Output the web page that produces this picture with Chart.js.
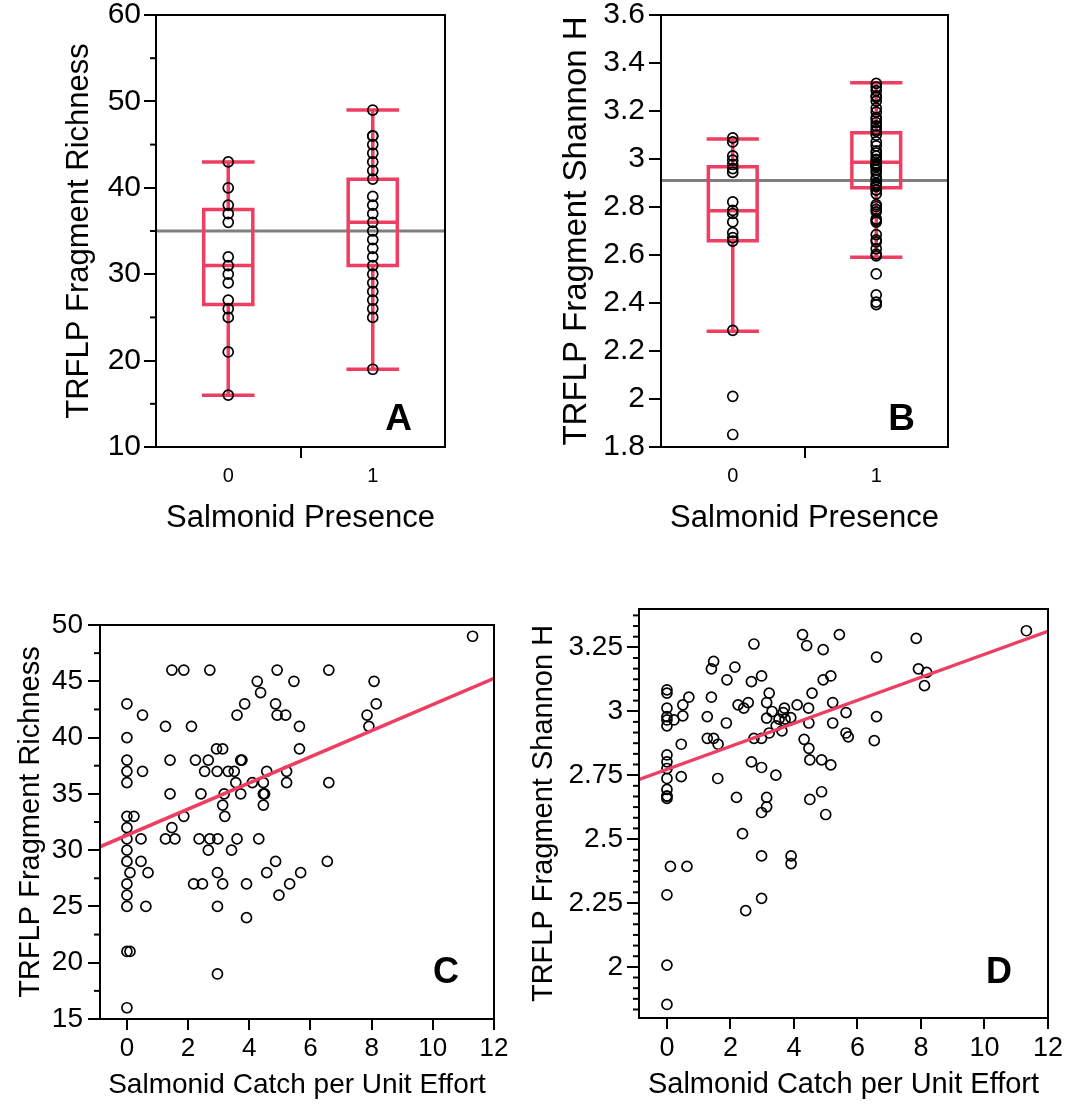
<!DOCTYPE html>
<html><head><meta charset="utf-8">
<script src="https://cdn.jsdelivr.net/npm/chart.js@4"></script>
<style>
html,body{margin:0;padding:0;background:#fff;width:1074px;height:1107px;overflow:hidden;}
canvas{position:absolute;}
</style></head><body>
<canvas id="cA" width="530" height="550" style="left:0;top:0"></canvas>
<canvas id="cB" width="534" height="550" style="left:540px;top:0"></canvas>
<canvas id="cC" width="520" height="547" style="left:0;top:560px"></canvas>
<canvas id="cD" width="554" height="547" style="left:520px;top:560px"></canvas>
<script>
// ---------------- DATA ----------------
const presenceTickValues = [0, 0.5, 1];
const presenceTickLabels = ['0', '', '1'];
const richnessTicksA = [10, 20, 30, 40, 50, 60];
const shannonTicksB = [1.8, 2, 2.2, 2.4, 2.6, 2.8, 3, 3.2, 3.4, 3.6];
const richnessTicksC = [15, 20, 25, 30, 35, 40, 45, 50];
const shannonTicksD = [2, 2.25, 2.5, 2.75, 3, 3.25];
const catchTicks = [0, 2, 4, 6, 8, 10, 12];

// box stats: [lower whisker, Q1, median, Q3, upper whisker]
const richnessBoxAbsent  = [16, 26.5, 31, 37.5, 43];
const richnessBoxPresent = [19, 31, 36, 41, 49];
const shannonBoxAbsent   = [2.282, 2.659, 2.784, 2.968, 3.083];
const shannonBoxPresent  = [2.591, 2.88, 2.986, 3.109, 3.318];
const richnessMean = 35;
const shannonMean = 2.91;

const richnessAbsent  = [43, 40, 38, 37, 36, 32, 31, 30, 29, 27, 26, 25, 21, 16];
const richnessPresent = [49, 46, 46, 45, 44, 43, 42, 41, 39, 38, 37, 36, 35, 34, 33, 32, 31, 30, 29, 28, 27, 26, 25, 19];
const shannonAbsent  = [3.088, 3.071, 3.013, 2.995, 2.977, 2.96, 2.944, 2.821, 2.786, 2.773, 2.738, 2.693, 2.672, 2.658, 2.286, 2.011, 1.852];
const shannonPresent = [2.393, 2.966, 2.871, 2.744, 2.982, 3.025, 3.055, 2.979, 2.894, 3.166, 3.195, 2.871, 2.737, 2.954, 3.123,
  3.173, 2.663, 2.521, 3.012, 3.034, 3.116, 2.802, 3.263, 3.138, 2.78, 2.604, 2.434, 2.973, 2.626, 3.071, 2.915, 2.999, 2.75,
  2.943, 2.969, 2.923, 2.995, 2.975, 2.404, 3.30, 2.89, 3.257, 2.855, 2.81, 2.655, 2.685, 3.241, 2.596, 2.79, 2.90, 2.885,
  3.212, 3.285, 3.10, 3.152, 3.315];

const catchC = [0,0,0,0,0,0,0,0,0,0,0,0,0,0,0, 0.1,0.1,0.23,0.46,0.46,0.51,0.51,0.62,0.69,
  1.26,1.26,1.41,1.41,1.47,1.47,1.57,1.86,1.86, 2.11,2.18,2.24,2.36,2.42,2.47,2.54,2.66,2.66,2.71,2.71,2.93,2.95,2.96,2.96,2.96,2.97,
  3.13,3.13,3.13,3.18,3.2,3.31,3.42,3.51,3.56,3.6,3.6,3.72,3.76,3.72,3.85,3.91,3.91,
  4.1,4.26,4.31,4.37,4.46,4.46,4.5,4.46,4.57,4.57,4.86,4.86,4.91,4.91,4.97,
  5.19,5.22,5.22,5.32,5.46,5.64,5.64,5.68, 6.55,6.6,6.6, 7.85,7.91,8.08,8.15, 11.3];
const richnessC = [43,40,38,37,36,33,32,31,30,29,27,26,25,21,16, 28,21,33,31,29,42,37,25,28,
  41,31,38,35,46,32,31,46,33, 41,27,38,31,35,27,37,38,30,46,31,39,37,28,25,19,31,
  39,34,27,35,33,37,30,37,36,42,31,38,38,35,43,27,24,
  36,45,31,44,36,35,35,34,37,28,43,29,46,42,26,
  42,37,36,27,45,41,39,28, 29,46,36, 42,41,45,43, 49];
const fitCx = [-0.88, 12];
const fitCy = [30.3, 45.26];

const catchD = [0,0,0,0,0,0,0,0,0,0,0,0,0,0,0,0,0, 0.11,0.22,0.45,0.45,0.5,0.5,0.63,0.69,
  1.27,1.27,1.4,1.4,1.47,1.47,1.61,1.6,1.87,1.89,
  2.14,2.19,2.24,2.38,2.42,2.48,2.56,2.66,2.66,2.74,2.74,2.98,2.98,2.98,2.98,2.98,2.98,
  3.14,3.14,3.14,3.14,3.22,3.22,3.31,3.43,3.44,3.53,3.62,3.66,3.7,3.72,3.9,3.91,3.91,
  4.1,4.27,4.32,4.4,4.46,4.47,4.47,4.5,4.5,4.57,4.87,4.87,4.92,4.92,5.0,
  5.16,5.16,5.22,5.22,5.43,5.64,5.64,5.71, 6.53,6.6,6.6, 7.85,7.92,8.11,8.18, 11.32];
const shannonD = [3.084,3.071,3.012,2.979,2.966,2.943,2.829,2.802,2.776,2.737,2.694,2.668,2.668,2.659,2.282,2.007,1.853,
  2.393,2.966,2.871,2.744,2.982,3.025,2.393,3.055,
  2.979,2.894,3.055,3.166,3.195,2.894,2.871,2.737,2.954,3.123,
  3.173,2.663,3.025,2.521,3.012,2.22,3.034,3.116,2.802,3.263,2.894,3.138,2.894,2.78,2.604,2.434,2.268,
  3.034,2.973,2.663,2.626,3.071,2.915,2.999,2.75,2.943,2.969,2.923,2.995,3.012,2.969,2.975,2.434,2.404,
  3.025,3.30,2.89,3.257,3.012,2.954,2.855,2.81,2.655,3.071,2.81,2.685,3.241,3.123,2.596,
  2.79,3.138,3.034,2.954,3.30,2.995,2.915,2.90, 2.885,3.212,2.979, 3.285,3.166,3.10,3.152, 3.315];
const fitDx = [-0.88, 12];
const fitDy = [2.733, 3.313];

// ---------------- STYLE ----------------
const FONT = '"Liberation Sans", Arial, Helvetica, sans-serif';
const PINK = '#EE3E62';
const GREY = '#7f7f7f';
const BOX_HW = 0.17;

function boxData(c, s) {
  const [mn, q1, md, q3, mx] = s, hw = BOX_HW, G = {x: c, y: null};
  return [
    {x:c-hw,y:q1},{x:c+hw,y:q1},{x:c+hw,y:q3},{x:c-hw,y:q3},{x:c-hw,y:q1}, G,
    {x:c-hw,y:md},{x:c+hw,y:md}, G,
    {x:c,y:q3},{x:c,y:mx}, G,
    {x:c-hw,y:mx},{x:c+hw,y:mx}, G,
    {x:c,y:q1},{x:c,y:mn}, G,
    {x:c-hw,y:mn},{x:c+hw,y:mn}
  ];
}

const framePlugin = {
  id: 'frame',
  afterDatasetsDraw(chart, args, o) {
    const {ctx, chartArea: a} = chart;
    ctx.save();
    ctx.strokeStyle = '#000';
    ctx.lineWidth = 2;
    ctx.strokeRect(a.left, a.top, a.right - a.left, a.bottom - a.top);
    const ys = chart.scales.y;
    (o.minorY || []).forEach(v => {
      const p = ys.getPixelForValue(v);
      ctx.beginPath(); ctx.moveTo(a.left, p); ctx.lineTo(a.left - 6, p); ctx.stroke();
    });
    ctx.fillStyle = '#000';
    ctx.font = 'bold ' + o.letterSize + 'px ' + FONT;
    ctx.textAlign = 'right';
    ctx.textBaseline = 'alphabetic';
    ctx.fillText(o.letter, a.right - o.dx, a.bottom - o.dy);
    ctx.restore();
  }
};

function pointsDS(data, order) {
  return {type: 'scatter', data, showLine: false, pointStyle: 'circle', pointRadius: 5,
    pointBorderWidth: 1.7, pointBorderColor: '#000', pointBackgroundColor: 'rgba(0,0,0,0)', order};
}
function lineDS(data, color, width, order) {
  return {type: 'line', data, borderColor: color, borderWidth: width, pointRadius: 0, tension: 0,
    spanGaps: false, fill: false, borderCapStyle: 'square', borderJoinStyle: 'miter', order};
}

function xScale(o) {
  return {
    type: 'linear', min: o.min, max: o.max,
    afterBuildTicks: s => { s.ticks = o.ticks.map(v => ({value: v})); },
    afterFit: s => { s.height = o.height; s.paddingLeft = 0; s.paddingRight = 0; },
    ticks: {callback: o.cb || (v => String(v)), font: {family: FONT, size: o.tickSize}, color: '#000',
      padding: o.tickPad, maxRotation: 0, autoSkip: false},
    grid: {drawOnChartArea: false, tickLength: 11, tickWidth: 2, lineWidth: 2, tickColor: o.tickColor || '#000'},
    border: {display: false},
    title: {display: true, text: o.title, font: {family: FONT, size: o.titleSize}, color: '#000',
      padding: {top: 0, bottom: o.titlePad}}
  };
}
function yScale(o) {
  return {
    type: 'linear', min: o.min, max: o.max,
    afterBuildTicks: s => { s.ticks = o.ticks.map(v => ({value: v})); },
    afterFit: s => { s.width = o.width; s.paddingTop = 0; s.paddingBottom = 0; },
    ticks: {callback: v => String(v), font: {family: FONT, size: o.tickSize}, color: '#000', padding: o.tickPad, autoSkip: false},
    grid: {drawOnChartArea: false, tickLength: 12, tickWidth: 2, lineWidth: 2, tickColor: '#000'},
    border: {display: false},
    title: {display: true, text: o.title, font: {family: FONT, size: o.titleSize}, color: '#000',
      padding: {top: o.titlePad, bottom: 0}}
  };
}

function baseOptions(padding, scales, frame) {
  return {
    responsive: false, animation: false, maintainAspectRatio: false, events: [],
    layout: {padding},
    plugins: {legend: {display: false}, tooltip: {enabled: false}, frame},
    scales
  };
}

// ---------------- PANEL A ----------------
const minorA = [15, 25, 35, 45, 55];
new Chart(document.getElementById('cA'), {
  data: {datasets: [
    pointsDS(richnessAbsent.map(v => ({x: 0, y: v})), 0),
    pointsDS(richnessPresent.map(v => ({x: 1, y: v})), 0),
    lineDS(boxData(0, richnessBoxAbsent), PINK, 3.5, 1),
    lineDS(boxData(1, richnessBoxPresent), PINK, 3.5, 1),
    lineDS([{x: -0.5, y: richnessMean}, {x: 1.5, y: richnessMean}], GREY, 3, 2)
  ]},
  options: baseOptions({left: 0, top: 15, right: 85, bottom: 0}, {
    x: xScale({min: -0.5, max: 1.5, ticks: presenceTickValues, height: 103, cb: (v, i) => presenceTickLabels[i],
      tickSize: 20, tickPad: 6, tickColor: c => (c.tick && c.tick.value === 0.5) ? '#000' : 'rgba(0,0,0,0)',
      title: 'Salmonid Presence', titleSize: 31, titlePad: 13}),
    y: yScale({min: 10, max: 60, ticks: richnessTicksA, width: 156, tickSize: 30, tickPad: 3,
      title: 'TRFLP Fragment Richness', titleSize: 31, titlePad: 61})
  }, {letter: 'A', letterSize: 37, dx: 33, dy: 17, minorY: minorA}),
  plugins: [framePlugin]
});

// ---------------- PANEL B ----------------
new Chart(document.getElementById('cB'), {
  data: {datasets: [
    pointsDS(shannonAbsent.map(v => ({x: 0, y: v})), 0),
    pointsDS(shannonPresent.map(v => ({x: 1, y: v})), 0),
    lineDS(boxData(0, shannonBoxAbsent), PINK, 3.5, 1),
    lineDS(boxData(1, shannonBoxPresent), PINK, 3.5, 1),
    lineDS([{x: -0.5, y: shannonMean}, {x: 1.5, y: shannonMean}], GREY, 3, 2)
  ]},
  options: baseOptions({left: 0, top: 15, right: 126, bottom: 0}, {
    x: xScale({min: -0.5, max: 1.5, ticks: presenceTickValues, height: 103, cb: (v, i) => presenceTickLabels[i],
      tickSize: 20, tickPad: 6, tickColor: c => (c.tick && c.tick.value === 0.5) ? '#000' : 'rgba(0,0,0,0)',
      title: 'Salmonid Presence', titleSize: 31, titlePad: 13}),
    y: yScale({min: 1.8, max: 3.6, ticks: shannonTicksB, width: 121, tickSize: 30, tickPad: 4,
      title: 'TRFLP Fragment Shannon H', titleSize: 33, titlePad: 17})
  }, {letter: 'B', letterSize: 37, dx: 33, dy: 17, minorY: []}),
  plugins: [framePlugin]
});

// ---------------- PANEL C ----------------
const minorC = [17.5, 22.5, 27.5, 32.5, 37.5, 42.5, 47.5];
new Chart(document.getElementById('cC'), {
  data: {datasets: [
    pointsDS(catchC.map((x, i) => ({x, y: richnessC[i]})), 1),
    lineDS(fitCx.map((x, i) => ({x, y: fitCy[i]})), PINK, 3.5, 0)
  ]},
  options: baseOptions({left: 0, top: 65, right: 26, bottom: 0}, {
    x: xScale({min: -0.88, max: 12, ticks: catchTicks, height: 88, tickSize: 26, tickPad: 3,
      title: 'Salmonid Catch per Unit Effort', titleSize: 28, titlePad: 5}),
    y: yScale({min: 15, max: 50, ticks: richnessTicksC, width: 100, tickSize: 28, tickPad: 5,
      title: 'TRFLP Fragment Richness', titleSize: 29, titlePad: 14})
  }, {letter: 'C', letterSize: 36, dx: 35, dy: 36, minorY: minorC}),
  plugins: [framePlugin]
});

// ---------------- PANEL D ----------------
const minorD = [];
for (let n = 44; n <= 81; n++) { if (n % 6 !== 0) minorD.push(n / 24); }
new Chart(document.getElementById('cD'), {
  data: {datasets: [
    pointsDS(catchD.map((x, i) => ({x, y: shannonD[i]})), 1),
    lineDS(fitDx.map((x, i) => ({x, y: fitDy[i]})), PINK, 3.5, 0)
  ]},
  options: baseOptions({left: 0, top: 49, right: 26, bottom: 0}, {
    x: xScale({min: -0.88, max: 12, ticks: catchTicks, height: 89, tickSize: 27, tickPad: 3,
      title: 'Salmonid Catch per Unit Effort', titleSize: 29, titlePad: 5}),
    y: yScale({min: 1.8, max: 3.4, ticks: shannonTicksD, width: 119, tickSize: 28, tickPad: 4,
      title: 'TRFLP Fragment Shannon H', titleSize: 29, titlePad: 7})
  }, {letter: 'D', letterSize: 36, dx: 36, dy: 35, minorY: minorD}),
  plugins: [framePlugin]
});
</script>
</body></html>
